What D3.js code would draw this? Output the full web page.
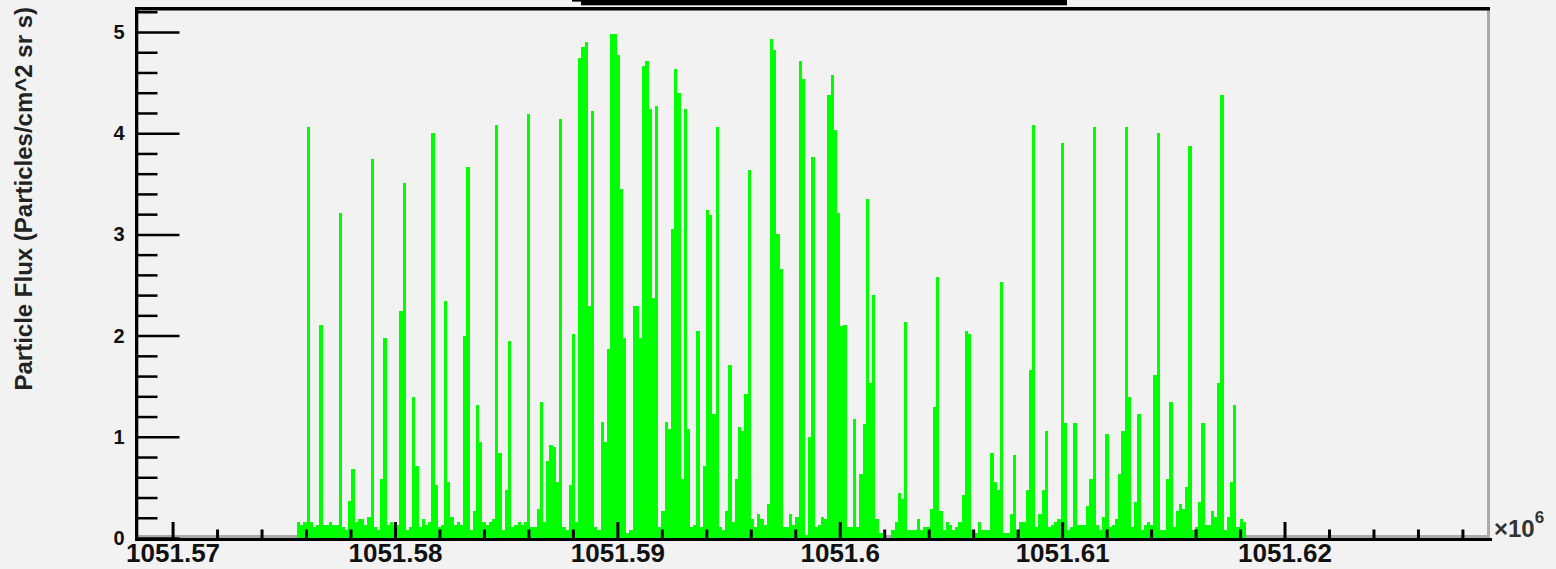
<!DOCTYPE html>
<html><head><meta charset="utf-8">
<script src="https://cdn.jsdelivr.net/npm/d3@7"></script>
<style>
html,body{margin:0;padding:0;background:#f2f2f2;}
svg{display:block;}
</style></head><body>
<svg id="c" width="1556" height="569"></svg>
<script>
// ---- data (x in units of 10^6 s) ----
const binStart = 1051.575598;
const binWidth = 0.00014367;
const flux = [
0.155,0.13,0.155,4.06,0.155,0.106,0.13,2.10,0.13,0.13,
0.155,0.13,0.13,3.21,0.106,0.083,0.364,0.68,0.155,0.19,
0.19,0.13,0.21,3.745,0.106,0.083,0.58,1.975,0.13,0.155,
0.13,0.13,2.24,3.51,0.083,0.106,1.39,0.71,0.106,0.19,
0.13,0.155,4.0,0.52,0.106,0.13,2.34,0.55,0.21,0.13,
0.155,0.13,2.0,3.67,0.083,0.27,1.31,0.95,0.155,0.13,
0.155,0.19,4.08,0.84,0.083,0.47,1.95,0.106,0.13,0.155,
0.13,0.155,4.19,0.106,0.106,0.29,1.34,0.16,0.76,0.92,
0.90,0.55,4.14,0.106,0.083,0.52,2.02,0.16,4.74,4.85,
4.90,2.29,4.22,0.106,0.083,1.15,0.95,1.87,4.98,4.98,
4.77,3.45,1.975,0.05,0.083,2.29,2.29,1.975,4.66,4.71,
4.24,2.37,4.27,0.11,0.27,1.15,1.075,3.05,4.63,4.40,
0.58,4.24,1.075,0.11,0.13,2.05,0.11,0.71,3.24,3.19,
1.23,4.06,0.11,0.083,0.27,1.71,0.16,0.58,1.10,1.055,
1.42,3.64,0.19,0.11,0.24,0.19,0.13,0.34,4.93,4.82,
3.0,2.66,0.11,0.11,0.24,0.13,0.21,4.71,4.54,0.03,
1.0,3.76,0.11,0.13,0.21,0.19,4.38,4.58,4.03,3.21,
2.09,2.10,0.11,0.11,1.18,0.11,0.63,1.13,3.35,1.53,
2.40,0.19,0.05,0.05,0,0,0.083,0.16,0.44,0.39,
2.13,0.083,0.083,0.083,0.19,0.083,0.11,0.11,0.29,1.29,
2.58,0.27,0.083,0.16,0.13,0.083,0.11,0.16,0.42,2.05,
2.02,0.083,0.05,0.16,0.083,0.083,0.083,0.84,0.55,0.47,
2.53,0.05,0.05,0.24,0.82,0.083,0.16,0.16,0.47,1.66,
4.08,0.11,0.24,0.47,1.055,0.11,0.13,0.16,0.19,3.90,
1.135,0.083,0.11,1.135,0.13,0.13,0.13,0.32,0.58,4.06,
0.13,0.083,0.21,1.03,0.11,0.13,0.19,0.63,1.055,4.06,
1.39,0.11,0.36,1.23,0.083,0.13,0.16,0.13,1.61,4.0,
0.083,0.083,0.58,1.34,0.11,0.27,0.34,0.29,0.50,3.87,
0.083,0.11,0.36,1.135,0.13,0.13,0.27,0.21,1.53,4.38,
0.083,0.21,0.55,1.31,0.11,0.19,0.16
];
const xMajorTicks = [1051.57, 1051.58, 1051.59, 1051.60, 1051.61, 1051.62];
const xTickLabels = ["1051.57","1051.58","1051.59","1051.6","1051.61","1051.62"];
const yMajorTicks = [0, 1, 2, 3, 4, 5];
const yTickLabels = ["0","1","2","3","4","5"];
const yTitle = "Particle Flux (Particles/cm^2 sr s)";
const xExponent = "6";

// ---- layout ----
const FONT = '"Liberation Sans", Arial, Helvetica, sans-serif';
const fr = {l:135, r:1490, t:7, b:538};
const svg = d3.select("#c");
const x = d3.scaleLinear().domain([1051.56831, 1051.62924]).range([fr.l, fr.r]);
const y = d3.scaleLinear().domain([0, 5.247]).range([fr.b, fr.t]);

svg.append("rect").attr("width",1556).attr("height",569).attr("fill","#f2f2f2");

// title pave remnant at the top
svg.append("rect").attr("x",572).attr("y",0).attr("width",495).attr("height",1.6).attr("fill","#000");
svg.append("rect").attr("x",581).attr("y",0).attr("width",486).attr("height",5.3).attr("fill","#000");

// frame shading (grey) bottom and right
svg.append("rect").attr("x",fr.l).attr("y",fr.b-3).attr("width",fr.r-fr.l).attr("height",3).attr("fill","#ababab");
svg.append("rect").attr("x",fr.r-3).attr("y",fr.t).attr("width",3).attr("height",fr.b-fr.t).attr("fill","#ababab");

// bars
svg.append("g").attr("shape-rendering","crispEdges")
  .selectAll("rect").data(flux).join("rect")
  .attr("x",(d,i)=>x(binStart+i*binWidth))
  .attr("width",(d,i)=>x(binStart+(i+1)*binWidth)-x(binStart+i*binWidth)+0.05)
  .attr("y",d=>y(d))
  .attr("height",d=>y(0)-y(d))
  .attr("fill","#00ff00");

// frame lines
svg.append("rect").attr("x",fr.l).attr("y",fr.t).attr("width",fr.r-fr.l).attr("height",3.5).attr("fill","#000");
svg.append("rect").attr("x",fr.l).attr("y",fr.t).attr("width",3.3).attr("height",fr.b-fr.t+3).attr("fill","#000");
svg.append("rect").attr("x",fr.l).attr("y",fr.b).attr("width",fr.r-fr.l+2).attr("height",3).attr("fill","#000");

// x axis ticks
const xMinor = d3.range(0,30).map(k=>1051.570+k*0.002).filter(v=>v<1051.629 && !xMajorTicks.some(m=>Math.abs(m-v)<1e-7));
const gxm = svg.append("g").attr("transform",`translate(0,${fr.b+1.5})`)
  .call(d3.axisBottom(x).tickValues(xMinor).tickSize(-10).tickFormat(""));
gxm.select(".domain").remove();
gxm.selectAll("line").attr("stroke","#000").attr("stroke-width",3);
const gx = svg.append("g").attr("transform",`translate(0,${fr.b+1.5})`)
  .call(d3.axisBottom(x).tickValues(xMajorTicks).tickSize(-17.5).tickPadding(4)
        .tickFormat((d,i)=>xTickLabels[i]));
gx.select(".domain").remove();
gx.selectAll("line").attr("stroke","#000").attr("stroke-width",3);
gx.selectAll("text").attr("font-family",FONT).attr("font-size",26).attr("font-weight","bold").attr("fill","#111");

// y axis ticks
const yMinor = d3.range(1,27).map(k=>k*0.2).filter(v=>v<5.24 && Math.abs(v-Math.round(v))>1e-6);
const gym = svg.append("g").attr("transform",`translate(${fr.l+1.5},0)`)
  .call(d3.axisLeft(y).tickValues(yMinor).tickSize(-21).tickFormat(""));
gym.select(".domain").remove();
gym.selectAll("line").attr("stroke","#000").attr("stroke-width",2.5);
const gy = svg.append("g").attr("transform",`translate(${fr.l+1.5},0)`)
  .call(d3.axisLeft(y).tickValues(yMajorTicks).tickSize(-43).tickPadding(12)
        .tickFormat((d,i)=>yTickLabels[i]));
gy.select(".domain").remove();
gy.selectAll("line").attr("stroke","#000").attr("stroke-width",2.5);
gy.selectAll("text").attr("font-family",FONT).attr("font-size",20).attr("font-weight","bold").attr("fill","#111");

// y title
svg.append("text").attr("transform","translate(32,7) rotate(-90)")
  .attr("text-anchor","end").attr("font-family",FONT).attr("font-size",24).attr("font-weight","bold")
  .attr("fill","#222").text(yTitle);

// x10^6 exponent
const ex = svg.append("text").attr("x",1494).attr("y",537).attr("font-family",FONT).attr("font-weight","bold")
  .attr("font-size",24).attr("fill","#333");
ex.append("tspan").text("\u00d710");
ex.append("tspan").attr("dy",-14).attr("font-size",17).text(xExponent);
</script>
</body></html>
